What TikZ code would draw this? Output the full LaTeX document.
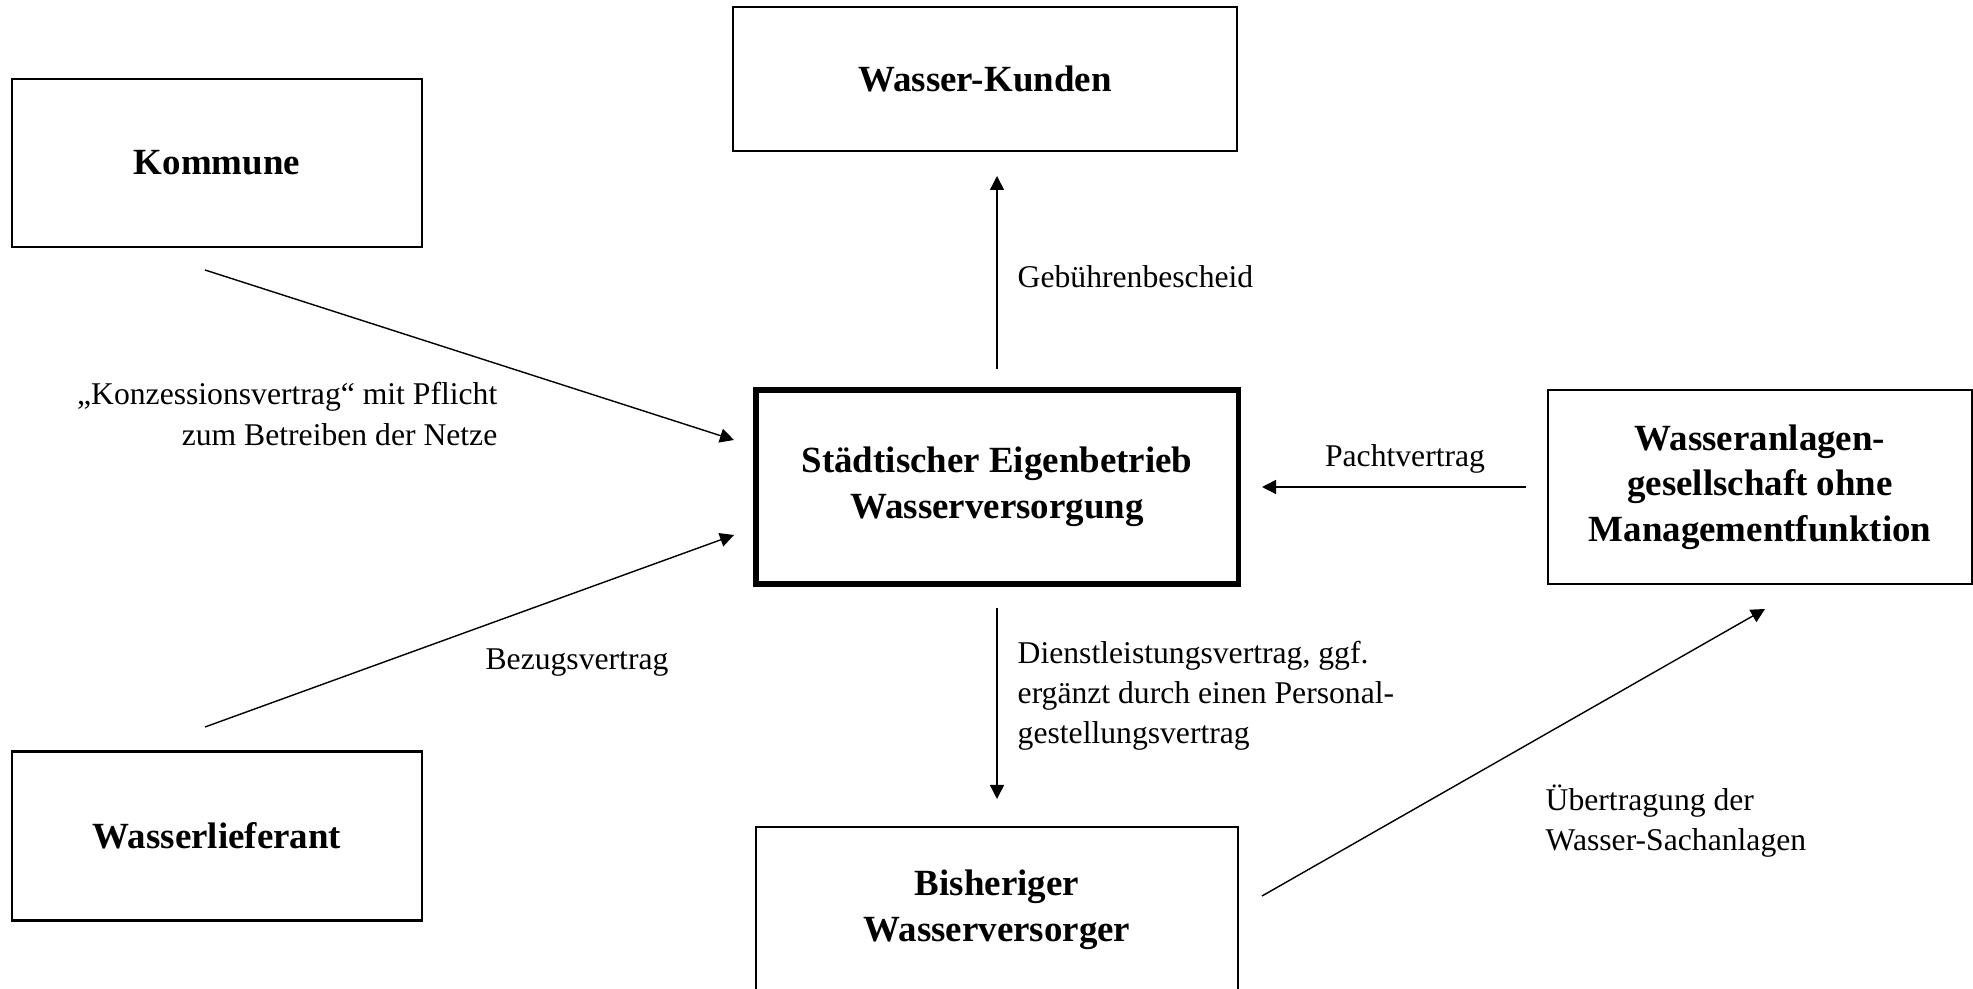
\documentclass[tikz,border=0pt]{standalone}
\usepackage{fontspec}
\setmainfont{Liberation Serif}
\usetikzlibrary{arrows.meta}
\tikzset{>={Triangle[length=1.4mm,width=1.4mm]}, line width=0.6pt}
\tikzset{
  box/.style={draw,line width=0.6pt,inner sep=0pt,align=center,
    font=\fontsize{10.5}{13}\selectfont\bfseries},
  mainbox/.style={box,line width=1.5pt},
  lbl/.style={inner sep=0pt,font=\fontsize{9}{11.4}\selectfont}
}

\begin{document}
\begin{tikzpicture}[x=0.01cm,y=-0.01cm]
  \clip (0,0) rectangle (1973,989);

  % boxes
  \node[box,minimum width=4.09cm,minimum height=1.68cm]
    (kommune) at (217,163) {Kommune};
  \node[box,minimum width=5.03cm,minimum height=1.44cm]
    (kunden) at (985,79) {Wasser-Kunden};
  \node[mainbox,minimum width=4.82cm,minimum height=1.94cm]
    (eigen) at (997,487) {Städtischer Eigenbetrieb\\Wasserversorgung};
  \node[box,minimum width=4.23cm,minimum height=1.94cm]
    (anlagen) at (1760,487) {Wasseranlagen-\\gesellschaft ohne\\Managementfunktion};
  \node[box,minimum width=4.09cm,minimum height=1.69cm]
    (lieferant) at (217,836) {Wasserlieferant};
  \node[box,minimum width=4.82cm,minimum height=1.66cm]
    (bisher) at (997,910) {Bisheriger\\Wasserversorger};

  % arrow ends
  \coordinate (k1) at (205,270);
  \coordinate (k2) at (734,440);
  \coordinate (l1) at (205,727);
  \coordinate (l2) at (734,535);
  \coordinate (g1) at (997,369);
  \coordinate (g2) at (997,176);
  \coordinate (p1) at (1526,487);
  \coordinate (p2) at (1262,487);
  \coordinate (d1) at (997,608);
  \coordinate (d2) at (997,799);
  \coordinate (u1) at (1262,896);
  \coordinate (u2) at (1765,609);

  \draw[->] (k1) -- (k2);
  \draw[->] (l1) -- (l2);
  \draw[->] (g1) -- (g2);
  \draw[->] (p1) -- (p2);
  \draw[->] (d1) -- (d2);
  \draw[->] (u1) -- (u2);

  % labels
  \node[lbl,anchor=east,align=right] (konz) at (498,414)
    {„Konzessionsvertrag“ mit Pflicht\\zum Betreiben der Netze};
  \node[lbl] (bezug) at (577,663) {Bezugsvertrag};
  \node[lbl,anchor=west] (gebuehr) at (1017,277) {Gebührenbescheid};
  \node[lbl] (pacht) at (1405,459) {Pachtvertrag};
  \node[lbl,anchor=west,align=left] (dienst) at (1017,696)
    {Dienstleistungsvertrag, ggf.\\ergänzt durch einen Personal-\\gestellungsvertrag};
  \node[lbl,anchor=west,align=left] (uebertr) at (1545,821)
    {Übertragung der\\Wasser-Sachanlagen};
\end{tikzpicture}
\end{document}
